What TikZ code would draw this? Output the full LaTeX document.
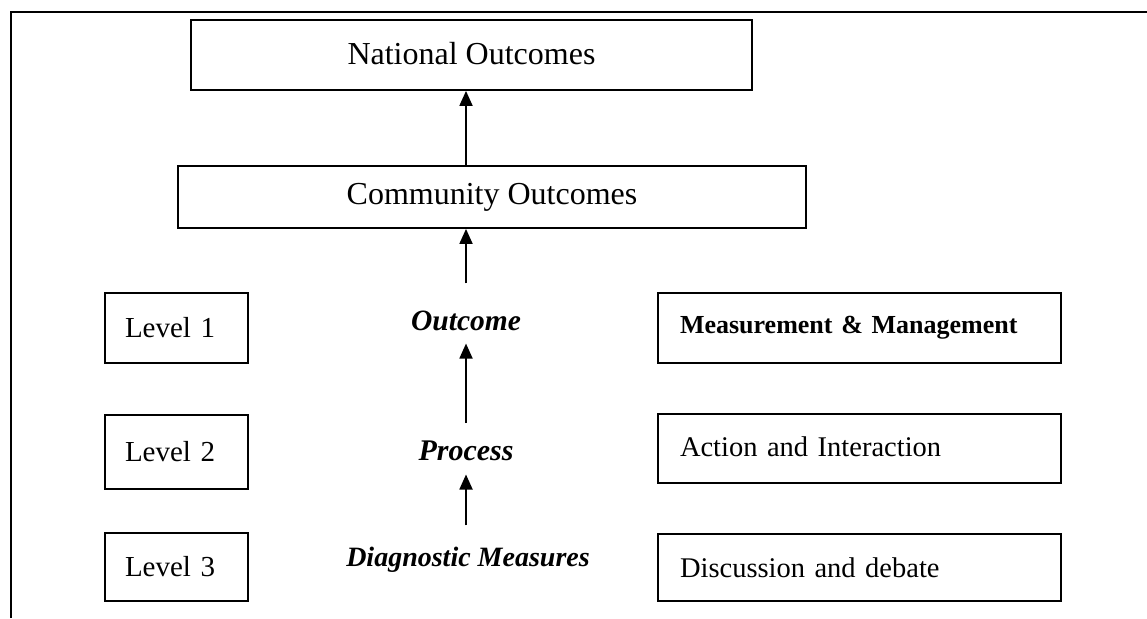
\documentclass[tikz,border=0pt]{standalone}
\usepackage{fontspec}
\setmainfont{Liberation Serif}
\usetikzlibrary{arrows.meta}
\begin{document}
\begin{tikzpicture}[x=1pt,y=-1pt,
  box/.style={draw,line width=1.8pt,rectangle,inner ysep=0pt},
  titlebox/.style={box,font=\fontsize{32}{36}\selectfont},
  levelbox/.style={box,inner xsep=20pt,text width=103pt,align=left,
    minimum width=143pt,font=\fontsize{29}{34}\selectfont},
  notebox/.style={box,inner xsep=22pt,text width=359pt,align=left,
    minimum width=403pt,font=\fontsize{28.5}{34}\selectfont},
  stage/.style={inner sep=0pt,anchor=base,font=\fontsize{30}{36}\selectfont\bfseries\itshape},
  arr/.style={line width=1.8pt,-{Triangle[width=13pt,length=15pt]}}]
\useasboundingbox (0,0) rectangle (1147,618);
% page frame
\draw[line width=2.2pt] (11,618) -- (11,12) -- (1147,12);

% outcome boxes
\node[titlebox,minimum width=561pt,minimum height=70pt] (nat) at (471.5,55) {\raisebox{4pt}{National Outcomes}};
\node[titlebox,minimum width=628pt,minimum height=62pt] (comm) at (492,197) {Community Outcomes};

% levels
\node[levelbox,minimum height=70pt] (lv1) at (176.5,328) {Level 1};
\node[levelbox,minimum height=74pt] (lv2) at (176.5,452) {Level 2};
\node[levelbox,minimum height=68pt] (lv3) at (176.5,567) {Level 3};

% stages
\node[stage,font=\fontsize{29.5}{36}\selectfont\bfseries\itshape] (outc) at (466,330) {Outcome};
\node[stage] (proc) at (466,460) {Process};
\node[stage,font=\fontsize{28}{32}\selectfont\bfseries\itshape] (diag) at (468,566) {Diagnostic Measures};

% descriptions
\node[notebox,minimum height=70pt,font=\fontsize{26}{30}\selectfont\bfseries] (mm) at (859.5,328) {Measurement \& Management};
\node[notebox,minimum height=69pt] (ai) at (859.5,448.5) {\raisebox{3pt}{Action and Interaction}};
\node[notebox,minimum height=67pt] (dd) at (859.5,567.5) {Discussion and debate};

% arrows
\draw[arr] (comm.north -| outc) -- (nat.south -| outc);
\draw[arr] ([yshift=27pt]outc.north) -- (comm.south -| outc);
\draw[arr] ([yshift=17pt]proc.north) -- ([yshift=-13pt]outc.south);
\draw[arr] ([yshift=21pt]diag.north -| proc) -- ([yshift=-14pt]proc.south);
\end{tikzpicture}
\end{document}
